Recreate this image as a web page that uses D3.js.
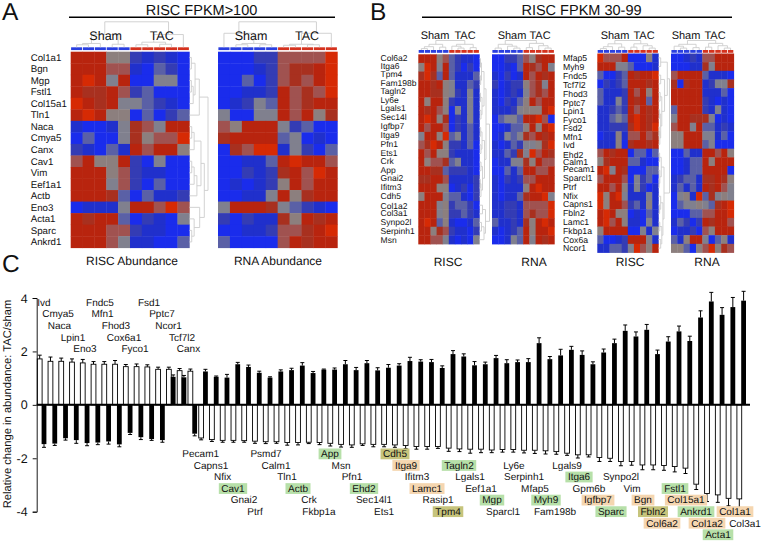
<!DOCTYPE html>
<html><head><meta charset="utf-8">
<script src="https://cdn.jsdelivr.net/npm/d3@7"></script>
<style>
html,body{margin:0;padding:0;background:#fff}
svg{display:block}
text{font-family:"Liberation Sans",Arial,sans-serif;fill:#111;text-rendering:geometricPrecision}
</style></head><body>
<svg id="c" width="762" height="542"></svg>
<script>
// ---------- Panel A gene labels ----------
const genesA = ["Col1a1","Bgn","Mgp","Fstl1","Col15a1","Tln1","Naca","Cmya5","Canx","Cav1","Vim","Eef1a1","Actb","Eno3","Acta1","Sparc","Ankrd1"];
// Heat values: one digit per cell, 0 = deepest blue, 9 = deepest red
const heatA1 = ["8885521210","8886610320","8984800440","8778623000","9878443210","8985503023","1001476488","0300475669","2103186885","6855820400","8885621100","8884620300","8887303112","0111488696","8788302104","8886621100","8886411003"];
const heatA2 = ["0002266669","0001267789","0030267689","0011286769","0124386788","4004486857","6588842300","7888834010","0769914203","0011389886","0021278698","0101258688","0011485788","4888743210","2021175878","0011266789","3000068788"];
const genesB1 = ["Col6a2","Itga6","Tpm4","Fam198b","Tagln2","Ly6e","Lgals1","Sec14l","Igfbp7","Itga9","Pfn1","Ets1","Crk","App","Gnai2","Ifitm3","Cdh5","Col1a2","Col3a1","Synpo2l","Serpinh1","Msn"];
const heatB1 = ["8885632110","5984832020","7973831113","8878541132","8877542141","8588521141","8786504141","8985702141","8688602131","4885934131","6798522130","8685521110","8566734110","8877322210","7788611112","8885501202","5888433102","8884523320","8884522321","8983510013","8857621102","8866410104"];
const heatB2 = ["0022365788","0010387684","1020186878","2012256748","1012146768","1021358688","1112455589","0344388960","0013358589","0143476878","1013244579","1132749687","0114475866","0031388668","1021266888","1011158988","1011378894","1122166669","1122167669","3112175898","1012385889","0014384878"];
const genesB3 = ["Mfap5","Myh9","Fndc5","Tcf7l2","Fhod3","Pptc7","Lpin1","Fyco1","Fsd2","Mfn1","Ivd","Ehd2","Calm1","Pecam1","Sparcl1","Ptrf","Nfix","Capns1","Fbln2","Lamc1","Fkbp1a","Cox6a","Ncor1"];
const heatB3 = ["9666800051","8884430001","3002387889","0212388878","3111286858","3114287838","1123286878","1134389878","1122279879","0115166867","1115078878","6878803303","5788833100","8948700033","6888604230","8868514201","9589411141","9588623151","8985501031","8968511041","5888800414","3001288841","1133249658"];
const heatB4 = ["0012166888","0001174888","6888831110","7078812447","8888811130","8888821010","3888821410","4887774010","6884833121","5588844130","5588834000","0031188685","0013385888","0013388880","1233177875","1313187864","0451937454","0344543789","0003366889","1320287886","0112065888","3158840351","5530569576"];

// Dendrograms: [height 0-1, left child, right child]; a number is a leaf index
const treeA1col = [1,[.5,[.15,[.1,0,1],2],[.12,3,4]],[.5,[.2,[.1,5,6],[.12,7,8]],9]];
const treeA2col = [1,[.55,0,[.15,[.1,1,2],[.1,3,4]]],[.55,[.12,[.08,5,6],[.1,7,8]],9]];
const treeA1row = [1,[.53,[.3,[.1,0,1],[.2,[.1,2,3],4]],5],[.8,[.62,[.25,[.12,6,7],8],[.4,[.25,[.12,9,10],11],12]],[.55,13,[.25,14,[.12,15,16]]]]];
const treeB1col = [1,[.6,[.35,[.15,0,1],2],[.3,3,4]],[.6,[.4,5,[.2,6,7]],[.25,8,9]]];
const treeB2col = [1,[.6,[.2,0,1],[.4,2,[.2,3,4]]],[.7,[.25,5,6],[.45,7,[.2,8,9]]]];
const treeB3col = [1,[.65,[.35,[.15,0,1],2],[.3,3,4]],[.65,[.3,5,6],[.45,7,[.2,8,9]]]];
const treeB4col = [1,[.6,[.4,0,[.2,1,2]],[.25,3,4]],[.7,[.3,5,6],[.45,7,[.2,8,9]]]];
const treeB1row = [1,[.65,[.45,[.2,[.1,0,1],[.12,2,3]],[.25,[.1,4,5],[.15,6,7]]],[.5,[.25,[.12,8,9],[.15,10,11]],[.3,[.15,12,13],[.15,[.08,14,15],16]]]],[.6,[.3,17,18],[.45,[.2,19,20],21]]];
const treeB3row = [1,[.8,[.2,0,1],[.55,[.2,2,3],[.3,[.15,4,5],[.2,[.1,6,7],[.12,[.06,8,9],10]]]]],[.5,[.25,[.1,11,12],[.12,13,[.06,14,15]]],[.4,[.2,16,[.1,17,18]],[.3,[.12,19,20],[.2,21,22]]]]];

// ---------- Panel C ----------
const upperGenes = ["Ivd","Cmya5","Naca","Lpin1","Eno3","Fndc5","Mfn1","Fhod3","Cox6a1","Fyco1","Fsd1","Pptc7","Ncor1","Tcf7l2","Canx"];
const lowerGenes = ["Pecam1","Capns1","Nfix","Cav1","Gnai2","Ptrf","Psmd7","Calm1","Tln1","Actb","Crk","Fkbp1a","App","Msn","Pfn1","Ehd2","Sec14l1","Ets1","Cdh5","Itga9","Ifitm3","Lamc1","Rasip1","Tpm4","Tagln2","Lgals1","Eef1a1","Mgp","Sparcl1","Ly6e","Serpinh1","Mfap5","Myh9","Fam198b","Lgals9","Itga6","Gpm6b","Igfbp7","Sparc","Synpo2l","Vim","Bgn","Fbln2","Col6a2","Fstl1","Col15a1","Ankrd1","Col1a2","Acta1","Col1a1","Col3a1"];
const whiteValues = [1.72,1.63,1.63,1.6,1.57,1.52,1.52,1.52,1.43,1.43,1.42,1.33,1.33,1.28,1.26,
 -1.24,-1.3,-1.33,-1.33,-1.34,-1.36,-1.38,-1.38,-1.41,-1.41,-1.4,-1.41,-1.44,-1.48,-1.5,-1.46,-1.48,-1.48,-1.5,-1.52,-1.56,-1.56,-1.56,-1.62,-1.65,-1.66,-1.66,-1.69,-1.67,-1.67,-1.7,-1.7,-1.72,-1.75,-1.81,-1.87,-1.87,-1.97,-2.0,-2.12,-2.12,-2.25,-2.25,-2.27,-2.31,-2.37,-2.97,-3.32,-3.37,-3.5,-3.52];
const whiteErr = [.14,.16,.12,.12,.13,.1,.1,.14,.08,.1,.08,.08,.08,.08,.08,
 .07,.07,.07,.07,.06,.08,.07,.06,.1,.09,.05,.08,.1,.1,.09,.06,.09,.09,.09,.12,.1,.1,.07,.12,.1,.15,.13,.1,.1,.1,.1,.12,.12,.1,.08,.12,.08,.15,.12,.16,.14,.18,.18,.18,.2,.2,.2,.3,.28,.28,.32];
const blackValues = [-1.47,-1.45,-1.25,-1.32,-1.43,-1.41,-1.37,-1.48,-1.05,-1.21,-1.28,-1.32,1.05,1.03,-1.08,
 1.25,1.05,1.02,1.52,1.42,1.2,1.02,1.25,1.3,1.47,1.19,1.32,1.32,1.52,1.3,1.56,1.29,1.39,1.47,1.64,1.62,1.6,1.38,1.9,1.81,1.48,1.52,1.75,1.56,1.6,1.6,2.31,1.71,1.85,2.06,1.87,1.52,1.96,2.31,2.77,2.56,2.81,1.9,2.37,2.75,2.39,3.27,3.87,3.37,3.66,3.9];
const blackErr = [.12,.07,.07,.12,.1,.08,.1,.09,.06,.09,.05,.08,.07,.07,.08,
 .08,.03,.12,.07,.07,.06,.03,.06,.07,.11,.06,.02,.06,.14,.1,.1,.1,.12,.07,.14,.07,.1,.08,.13,.1,.14,.08,.1,.13,.08,.13,.2,.1,.23,.13,.15,.09,.13,.15,.22,.17,.2,.15,.18,.2,.18,.25,.34,.27,.36,.35];
const greenGenes = ["Cav1","Actb","App","Ehd2","Tagln2","Mgp","Myh9","Itga6","Sparc","Fstl1","Ankrd1","Acta1"];
const orangeGenes = ["Itga9","Lamc1","Igfbp7","Bgn","Col15a1","Col6a2","Col1a2","Col1a1"];
const oliveGenes = ["Cdh5","Tpm4","Fbln2"];

// ---------- Layout of annotations (not data) ----------
const upperLabelX = [44,58,59.5,73,85,100,102.5,116,124,135,149,162,168.5,182,188.5];
const lowerLabelX = [200.7,211,222.7,233,244,255,266,276,287,298,309,319,330,341,352,364,374,384,395,406,417,427,438,448,459,470,481,492,503,514,524,535,546,555,567,579,589,598,611,621,632,643,653,662,675,686,696,707,718,735,745];
const lowerLabelRow = [0,1,2,3,4,5,0,1,2,3,4,5,0,1,2,3,4,5,0,1,2,3,4,5,1,2,3,4,5,1,2,3,4,5,1,2,3,4,5,2,3,4,5,6,3,4,5,6,7,5,6];
const labelYB1 = [57.5,65.5,73.5,83,91.3,100,108.3,117,126,135,144,152.7,161.3,170,178.3,187,195.7,205.7,213.3,221.7,231.3,240];
const labelYB3 = [58,67,76,85,94,102.7,111.3,119.7,128.3,137,145.3,154.7,162.3,169.3,178,187,196,204.3,213,221.7,231,240,248.3];

const svg = d3.select("#c");
const color = d3.scaleLinear().domain(d3.range(10)).range(["#1a2cec","#2030cc","#343cb4","#5a60a6","#80808e","#8c7f7e","#a05250","#a8301f","#b8240e","#d62a04"]);
const dendro = "#cdcdcd";
const SHAM = "#2a3fe0", TAC = "#d5321e";

function heat(rows,x0,x1,y0,y1,sample){
  const x = d3.scaleBand().domain(d3.range(10)).range([x0,x1]);
  const y = d3.scaleBand().domain(d3.range(rows.length)).range([y0,y1]);
  const g = svg.append("g");
  rows.forEach((r,i)=>{
    g.selectAll(null).data(Array.from(r,Number)).join("rect")
      .attr("x",(d,j)=>x(j)).attr("y",y(i))
      .attr("width",x.bandwidth()+.4).attr("height",y.bandwidth()+.4)
      .attr("fill",d=>color(d));
  });
  g.selectAll(null).data(d3.range(10)).join("rect")
    .attr("x",j=>x(j)+.4).attr("y",sample).attr("width",x.bandwidth()-.8).attr("height",2.8)
    .attr("fill",j=>j<5?SHAM:TAC);
  return {x,y};
}
function colTree(t,x,base,H){
  const g = svg.append("g").attr("fill","none").attr("stroke",dendro).attr("stroke-width",.9);
  const walk=n=>{
    if(typeof n==="number") return {p:x(n)+x.bandwidth()/2,q:base};
    const a=walk(n[1]),b=walk(n[2]),q=base-n[0]*H;
    g.append("path").attr("d",`M${a.p},${a.q}V${q}H${b.p}V${b.q}`);
    return {p:(a.p+b.p)/2,q};
  };
  walk(t);
}
function rowTree(t,y,base,H){
  const g = svg.append("g").attr("fill","none").attr("stroke",dendro).attr("stroke-width",.9);
  const walk=n=>{
    if(typeof n==="number") return {p:y(n)+y.bandwidth()/2,q:base};
    const a=walk(n[1]),b=walk(n[2]),q=base+n[0]*H;
    g.append("path").attr("d",`M${a.q},${a.p}H${q}V${b.p}H${b.q}`);
    return {p:(a.p+b.p)/2,q};
  };
  walk(t);
}
function txt(s,x,y,size,anchor,extra,parent){
  const t = (parent||svg).append("text").attr("x",x).attr("y",y).attr("font-size",size).attr("text-anchor",anchor||"start").text(s);
  if(extra) extra(t);
  return t;
}

// Panel letters
txt("A",2,20,24.5); txt("B",370,20,24.5); txt("C",2,272,24.5);

// Panel A
txt("RISC FPKM>100",201.5,14.5,14.5,"middle");
svg.append("line").attr("x1",69).attr("x2",335).attr("y1",17.3).attr("y2",17.3).attr("stroke","#000").attr("stroke-width",1.6);
const a1 = heat(heatA1,70.7,189.3,51.7,247.7,47.3);
const a2 = heat(heatA2,218,337.3,51.7,247.7,47.3);
colTree(treeA1col,a1.x,47.3,25.5);
colTree(treeA2col,a2.x,47.3,25.5);
rowTree(treeA1row,a1.y,189.5,18.5);
txt("Sham",105.7,40,12.5,"middle"); txt("TAC",161.7,40,12.5,"middle");
txt("Sham",251,40,12.5,"middle"); txt("TAC",307,40,12.5,"middle");
genesA.forEach((g,i)=>txt(g,30.7,a1.y(i)+a1.y.bandwidth()/2+3.3,9.7));
txt("RISC Abundance",132,265,12,"middle"); txt("RNA Abundance",278,265,12,"middle");

// Panel B
txt("RISC FPKM 30-99",581.5,14.5,14.5,"middle");
svg.append("line").attr("x1",422).attr("x2",732).attr("y1",17.3).attr("y2",17.3).attr("stroke","#000").attr("stroke-width",1.6);
const b1 = heat(heatB1,418.3,479.3,54.3,244,50);
const b2 = heat(heatB2,492,554.3,54.3,244,50);
const b3 = heat(heatB3,597.3,658.3,53.5,252.5,50);
const b4 = heat(heatB4,671,733.7,53.5,252.5,50);
colTree(treeB1col,b1.x,50,9.5); colTree(treeB2col,b2.x,50,9.5);
colTree(treeB3col,b3.x,50,9.5); colTree(treeB4col,b4.x,50,9.5);
rowTree(treeB1row,b1.y,479.5,10); rowTree(treeB3row,b3.y,658.5,11);
[[435,"Sham"],[465,"TAC"],[512,"Sham"],[540,"TAC"],[615,"Sham"],[644,"TAC"],[686,"Sham"],[715,"TAC"]].forEach(d=>txt(d[1],d[0],39.3,11,"middle"));
genesB1.forEach((g,i)=>txt(g,380.6,labelYB1[i]+3,8.5));
genesB3.forEach((g,i)=>txt(g,563,labelYB3[i]+3,8.7));
[[448,"RISC"],[534,"RNA"],[630,"RISC"],[707,"RNA"]].forEach(d=>txt(d[1],d[0],266,12,"middle"));

// Panel C
const ally = d3.scaleLinear().domain([-4,4]).range([511.7,298]);
const allx = d3.scaleLinear().domain([0,65]).range([39.7,739.3]);
const BW = 4.8, OFF = 4.3;
const gene = d3.range(whiteValues.length);
function bars(vals,errs,off,fill){
  const g = svg.append("g");
  g.selectAll(null).data(gene).join("line")
    .attr("x1",i=>allx(i)+off).attr("x2",i=>allx(i)+off)
    .attr("y1",i=>ally(vals[i])).attr("y2",i=>ally(vals[i]+Math.sign(vals[i])*errs[i]))
    .attr("stroke","#000").attr("stroke-width",1);
  g.selectAll(null).data(gene).join("line")
    .attr("x1",i=>allx(i)+off-2).attr("x2",i=>allx(i)+off+2)
    .attr("y1",i=>ally(vals[i]+Math.sign(vals[i])*errs[i])).attr("y2",i=>ally(vals[i]+Math.sign(vals[i])*errs[i]))
    .attr("stroke","#000").attr("stroke-width",1);
  g.selectAll(null).data(gene).join("rect")
    .attr("x",i=>allx(i)+off-BW/2).attr("width",BW)
    .attr("y",i=>ally(Math.max(0,vals[i])))
    .attr("height",i=>Math.abs(ally(vals[i])-ally(0)))
    .attr("fill",fill).attr("stroke","#000").attr("stroke-width",fill==="#fff"?.9:0);
}
bars(whiteValues,whiteErr,0,"#fff");
bars(blackValues,blackErr,OFF,"#000");
svg.append("line").attr("x1",36.7).attr("x2",750).attr("y1",ally(0)).attr("y2",ally(0)).attr("stroke","#000").attr("stroke-width",2);
const axis = svg.append("g").attr("transform","translate(36.7,0)")
  .call(d3.axisLeft(ally).tickValues([-4,-2,0,2,4]).tickSize(4).tickPadding(5).tickFormat(d=>d<0?"-"+Math.abs(d):d));
axis.selectAll("path,line").attr("stroke","#000").attr("stroke-width",.9);
axis.selectAll("text").attr("font-size",12.5).attr("font-family",'"Liberation Sans"').attr("fill","#111");
txt("Relative change in abundance: TAC/sham",11,404,11.2,"middle",t=>t.attr("transform","rotate(-90 11 404)"));

upperGenes.forEach((g,i)=>txt(g,upperLabelX[i],305.8 + (i%5)*11.6,10,"middle"));
const ROW0 = 457.2, ROWH = 11.55;
const hl = g => greenGenes.includes(g)?"#b7e0a9":orangeGenes.includes(g)?"#f5d6b0":oliveGenes.includes(g)?"#c6c47c":null;
const boxLayer = svg.append("g"), labelLayer = svg.append("g");
lowerGenes.forEach((g,i)=>{
  const x=lowerLabelX[i], y=ROW0+lowerLabelRow[i]*ROWH, c=hl(g);
  const t=txt(g,x,y,10,"middle",null,labelLayer);
  if(c){
    const w=t.node().getComputedTextLength();
    boxLayer.append("rect").attr("x",x-w/2-2.5).attr("y",y-8.7).attr("width",w+5).attr("height",10.8).attr("fill",c);
  }
});
</script>
</body></html>
